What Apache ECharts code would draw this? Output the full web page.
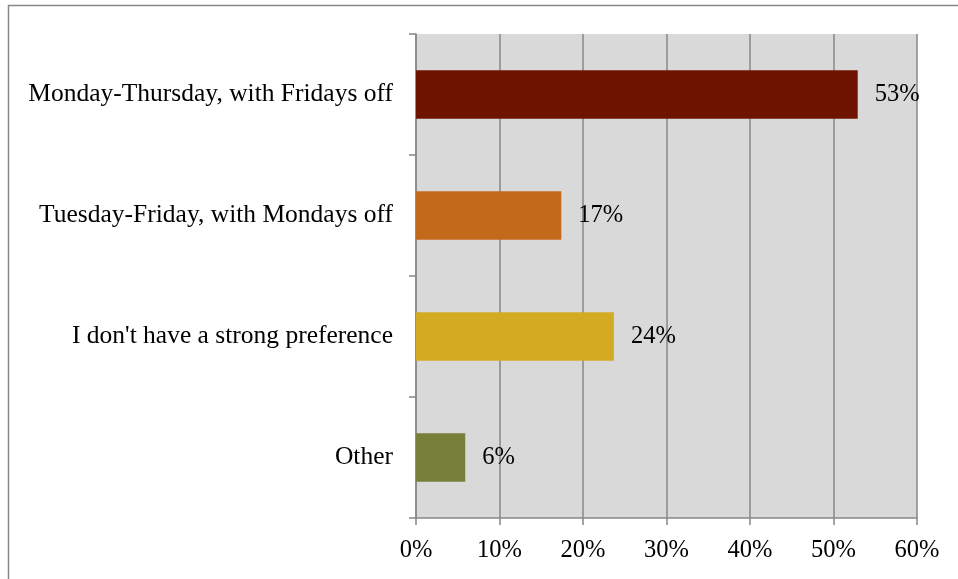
<!DOCTYPE html>
<html lang="en" style="height: 100%">
    <head>
        <meta charset="utf-8">
        <title>Work week preference</title>
    </head>
    <body style="height: 100%; margin: 0; background: #fff">
        <div id="container" style="width: 958px; height: 579px"></div>
        <script src="https://cdn.jsdelivr.net/npm/echarts@6/dist/echarts.min.js"></script>
        <script>
            let categories = [
                "Monday-Thursday, with Fridays off",
                "Tuesday-Friday, with Mondays off",
                "I don't have a strong preference",
                "Other"
            ];
            let shares = [0.529, 0.174, 0.237, 0.059];
            let xTicks = [0, 0.1, 0.2, 0.3, 0.4, 0.5, 0.6];

            let barColors = ["#6e1300", "#c3691b", "#d2ab22", "#76803a"];
            let gridColor = "#878787";
            let font = "'Liberation Serif', 'DejaVu Serif', serif";

            function percent(v) {
                return Math.round(v * 100) + "%";
            }

            function drawChart() {
                let dom = document.getElementById("container");
                let chart = echarts.init(dom, null, { renderer: "canvas" });

                let data = [];
                for (let i = 0; i < shares.length; i++) {
                    data.push({ value: shares[i], itemStyle: { color: barColors[i] } });
                }

                let option = {
                    animation: false,
                    backgroundColor: "#ffffff",
                    textStyle: { fontFamily: font },
                    graphic: [
                        {
                            type: "rect",
                            shape: { x: 8.5, y: 5.5, width: 980, height: 600 },
                            style: { fill: "none", stroke: "#888888", lineWidth: 1.5 },
                            silent: true
                        }
                    ],
                    grid: {
                        left: 416,
                        right: 41,
                        top: 34,
                        bottom: 61,
                        show: true,
                        backgroundColor: "#d9d9d9",
                        borderWidth: 0
                    },
                    xAxis: {
                        type: "value",
                        min: xTicks[0],
                        max: xTicks[xTicks.length - 1],
                        interval: xTicks[1] - xTicks[0],
                        axisLine: { show: true, lineStyle: { color: gridColor, width: 1.5 } },
                        axisTick: { show: true, length: 7, lineStyle: { color: gridColor, width: 1.5 } },
                        splitLine: { show: true, lineStyle: { color: gridColor, width: 1.5 } },
                        axisLabel: {
                            formatter: percent,
                            color: "#000",
                            fontSize: 24.5,
                            fontFamily: font,
                            margin: 20
                        }
                    },
                    yAxis: {
                        type: "category",
                        inverse: true,
                        data: categories,
                        axisLine: { show: true, lineStyle: { color: gridColor, width: 1.5 } },
                        axisTick: { show: true, length: 7, lineStyle: { color: gridColor, width: 1.5 } },
                        axisLabel: {
                            color: "#000",
                            fontSize: 25.5,
                            fontFamily: font,
                            margin: 23
                        }
                    },
                    series: [
                        {
                            type: "bar",
                            data: data,
                            barCategoryGap: "60%",
                            label: {
                                show: true,
                                position: "right",
                                distance: 17,
                                formatter: function (p) { return percent(p.value); },
                                color: "#000",
                                fontSize: 24.5,
                                fontFamily: font
                            }
                        }
                    ]
                };

                chart.setOption(option);
            }

            drawChart();
        </script>
    </body>
</html>
